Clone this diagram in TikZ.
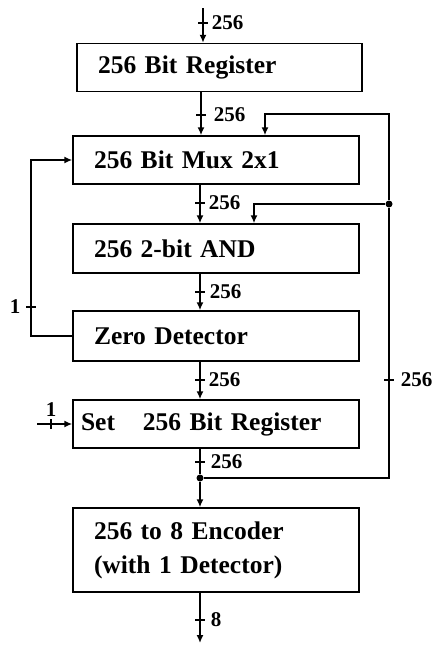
\documentclass[tikz,border=0pt]{standalone}
\usepackage{fontspec}
\setmainfont{Liberation Serif}
\usetikzlibrary{arrows.meta,calc}
\begin{document}
\begin{tikzpicture}[x=1pt,y=-1pt, line width=1.5pt,
  blk/.style={draw, rectangle, minimum height=48pt, text width=244pt, inner xsep=21pt, inner ysep=0pt, align=left, font=\fontsize{25.5}{34}\selectfont\bfseries},
  bus/.style={-{Latex[length=8pt,width=7pt]}},
  tickline/.style={line width=1.2pt},
  lbl/.style={font=\fontsize{21}{21}\selectfont\bfseries, inner sep=2pt},
  dot/.style={circle, fill, inner sep=0pt, minimum size=7pt}]
\useasboundingbox (0,0) rectangle (431,645);

% blocks
\node[blk, text width=243pt] (reg1) at (219.5,67.5) {256 Bit Register};
\node[blk] (mux) at (216,160) {256 Bit Mux 2x1};
\node[blk, minimum height=49pt] (and) at (216,248.5) {256 2-bit AND};
\node[blk, minimum height=50pt] (zd) at (216,336) {Zero Detector};
\node[blk, inner xsep=8pt, text width=270pt] (reg2) at (216,424) {Set\hspace{28pt}256 Bit Register};
\node[blk, minimum height=84pt] (enc) at (216,550) {256 to 8 Encoder\\(with 1 Detector)};

% helper coordinates
\coordinate (in) at (203,8);
\coordinate (c1) at (201,0);
\coordinate (col) at (200,0);
\coordinate (out) at (200,643);
\coordinate (rc) at (389,0);
\coordinate (t1) at (389,114);
\coordinate (m2) at (265,0);
\coordinate (a2) at (254,0);
\coordinate (lc) at (31,0);
\coordinate (s) at (37,424);
\node[dot] (j1) at (200,478) {};
\node[dot] (j2) at (389,204) {};

% bus-width tick positions
\coordinate (k0) at (203,23);
\coordinate (k1) at (201,115);
\coordinate (k2) at (200,203);
\coordinate (k3) at (200,292);
\coordinate (k4) at (200,380);
\coordinate (k5) at (200,462);
\coordinate (k6) at (200,620);
\coordinate (k7) at (389,380);
\coordinate (k8) at (31,307);
\coordinate (k9) at (51,424);

% main column
\draw[bus] (in) -- (in |- reg1.north);
\draw[bus] (reg1.south -| c1) -- (mux.north -| c1);
\draw[bus] (mux.south -| col) -- (and.north -| col);
\draw[bus] (and.south -| col) -- (zd.north -| col);
\draw[bus] (zd.south -| col) -- (reg2.north -| col);
\draw (reg2.south -| col) -- (j1);
\draw[bus] (j1) -- (enc.north -| col);
\draw[bus] (enc.south -| col) -- (out);

% right feedback
\draw (j1) -- (j1 -| rc) -- (j2);
\draw[bus] (j2) -- (t1) -| (mux.north -| m2);
\draw[bus] (j2) -| (and.north -| a2);

% left feedback
\draw[bus] (zd.west) -- (zd.west -| lc) -- (mux.west -| lc) -- (mux.west);

% set input
\draw[bus] (s) -- (reg2.west);

% ticks and labels
\foreach \k in {k0,k1,k2,k3,k4,k5,k6,k7,k8}
  \draw[tickline] ([xshift=-5pt]\k) -- ([xshift=5pt]\k);
\draw[tickline] ([yshift=-5pt]k9) -- ([yshift=5pt]k9);

\node[lbl, anchor=west] (l0) at ([xshift=6pt]k0) {256};
\node[lbl, anchor=west] (l1) at ([xshift=10pt]k1) {256};
\node[lbl, anchor=west] (l2) at ([xshift=6pt]k2) {256};
\node[lbl, anchor=west] (l3) at ([xshift=7pt]k3) {256};
\node[lbl, anchor=west] (l4) at ([xshift=6pt]k4) {256};
\node[lbl, anchor=west] (l5) at ([xshift=8pt]k5) {256};
\node[lbl, anchor=west] (l6) at ([xshift=8pt]k6) {8};
\node[lbl, anchor=west] (l7) at ([xshift=9pt]k7) {256};
\node[lbl, anchor=east] (l8) at ([xshift=-8pt]k8) {1};
\node[lbl, anchor=south] (l9) at ([yshift=5pt]k9) {1};
\end{tikzpicture}
\end{document}
